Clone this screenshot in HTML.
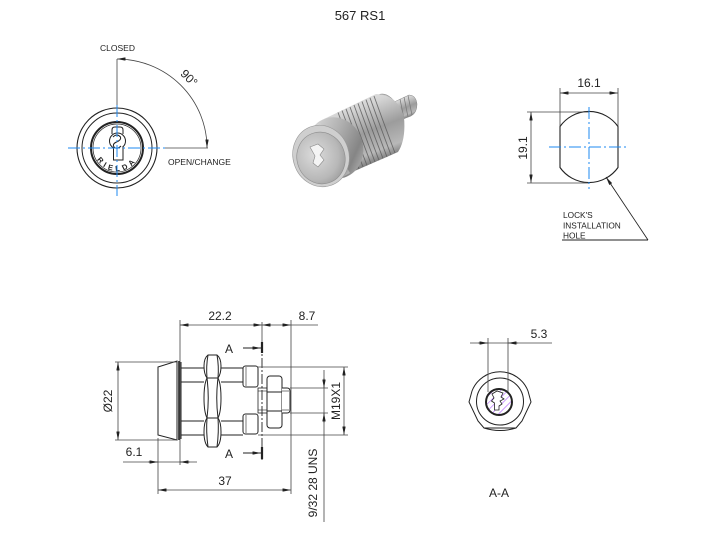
<!DOCTYPE html>
<html><head><meta charset="utf-8"><style>
html,body{margin:0;padding:0;background:#fff;}
svg{display:block;}
text{font-family:"Liberation Sans",Arial,sans-serif;fill:#222;}
</style></head><body>
<svg width="720" height="540" viewBox="0 0 720 540" xmlns="http://www.w3.org/2000/svg">
<defs>
<marker id="ah" viewBox="0 0 10 4" refX="10" refY="2" markerWidth="9" markerHeight="3.4" markerUnits="userSpaceOnUse" orient="auto-start-reverse"><path d="M0,0 L10,2 L0,4 z" fill="#222"/></marker>
<linearGradient id="gBody" x1="0" y1="0" x2="0.4" y2="1">
<stop offset="0" stop-color="#f0f0f0"/><stop offset="0.3" stop-color="#d4d4d4"/><stop offset="0.6" stop-color="#9c9c9c"/><stop offset="0.85" stop-color="#b8b8b8"/><stop offset="1" stop-color="#6e6e6e"/></linearGradient>
<linearGradient id="gHead" x1="0" y1="0" x2="1" y2="1">
<stop offset="0" stop-color="#e6e6e6"/><stop offset="0.45" stop-color="#b0b0b0"/><stop offset="0.75" stop-color="#858585"/><stop offset="1" stop-color="#c8c8c8"/></linearGradient>
<radialGradient id="gFace" cx="0.4" cy="0.4" r="0.7">
<stop offset="0" stop-color="#dcdcdc"/><stop offset="0.7" stop-color="#b8b8b8"/><stop offset="1" stop-color="#9a9a9a"/></radialGradient>
<pattern id="hatch" width="5" height="5" patternUnits="userSpaceOnUse" patternTransform="rotate(45)"><line x1="0" y1="0" x2="0" y2="5" stroke="#9933ff" stroke-width="0.9"/></pattern>
<path id="rp" d="M 94,148 A 23 23 0 0 0 140,148"/>
</defs>

<text x="360" y="20" font-size="13" text-anchor="middle">567 RS1</text>

<!-- ===== FRONT VIEW ===== -->
<g fill="none" stroke="#222">
<circle cx="117" cy="148" r="40" stroke-width="1.1"/>
<circle cx="117" cy="148" r="35" stroke-width="1"/>
<circle cx="117" cy="148" r="26" stroke-width="2"/>
<circle cx="117" cy="148" r="24" stroke-width="0.7"/>
<path d="M112,134 L112,130 Q112,127 115,127 L120,127 Q123,127 123,130 L123,134" stroke-width="1"/>
<circle cx="117.5" cy="141" r="8" stroke-width="1" fill="#fff"/>
<path d="M113.5,147 L113.5,160 L123,160 L123,147" stroke-width="1" fill="#fff"/>
<path d="M113,137 Q117,133 120.5,137 Q121.5,140 116.5,142 Q112,144 114,147 Q117,150 121,146" stroke-width="1"/>
</g>
<text font-size="7.5" font-weight="bold" letter-spacing="3.3"><textPath href="#rp" startOffset="50%" text-anchor="middle">RIELDA</textPath></text>
<g stroke="#1e88f0" stroke-width="1" fill="none" stroke-dasharray="12 3 2 3">
<line x1="68" y1="148" x2="165" y2="148"/>
<line x1="117" y1="105" x2="117" y2="196"/>
</g>
<g stroke="#444" stroke-width="0.8" fill="none">
<line x1="117" y1="59" x2="117" y2="105"/>
<line x1="165" y1="148" x2="208" y2="148"/>
<path d="M117,59 A 90 89 0 0 1 207,148" marker-start="url(#ah)" marker-end="url(#ah)"/>
</g>
<text x="100" y="51" font-size="8.5">CLOSED</text>
<text x="168" y="165" font-size="8.5">OPEN/CHANGE</text>
<text font-size="12" text-anchor="middle" dominant-baseline="central" transform="translate(189,78) rotate(45)">90°</text>

<!-- ===== 3D RENDER ===== -->
<g>
<path d="M392,103 L409,95 Q416,95 417,104 Q417,113 411,116 L398,121 Z" fill="url(#gBody)" stroke="#888" stroke-width="0.5"/>
<g stroke="#777" stroke-width="0.7">
<line x1="400" y1="99" x2="404" y2="119"/><line x1="404" y1="97" x2="408" y2="117"/><line x1="408" y1="95.5" x2="412" y2="115"/>
</g>
<ellipse cx="388" cy="118" rx="14" ry="25" transform="rotate(-20 388 118)" fill="#bdbdbd" stroke="#888" stroke-width="0.5"/>
<path d="M324,119 L376,94 Q398,95 404,117 Q406,140 398,152 L350,173 Z" fill="url(#gBody)"/>
<g stroke="#5a5a5a" stroke-width="0.9" fill="none" opacity="0.8">
<path d="M338,112.4 Q347,137 359,169"/><path d="M342,110.5 Q351,135 363,167"/><path d="M346,108.8 Q355,134 367,165.5"/>
<path d="M350,107 Q359,132 371,163.8"/><path d="M354,105 Q363,130 375,162"/><path d="M358,103.3 Q367,128.5 379,160.3"/>
<path d="M362,101.5 Q371,127 383,158.5"/><path d="M366,99.6 Q375,125 387,157"/><path d="M370,97.8 Q379,123 391,155"/>
<path d="M374,96 Q383,121 395,153"/>
</g>
<!-- head -->
<ellipse cx="335" cy="148" rx="28" ry="31" transform="rotate(-18 335 148)" fill="url(#gHead)"/>
<polygon points="306,131 320,123 350,173 336,181" fill="url(#gHead)"/>
<ellipse cx="321" cy="156" rx="28" ry="31" transform="rotate(-18 321 156)" fill="#cfcfcf" stroke="#999" stroke-width="0.6"/>
<ellipse cx="321" cy="158" rx="24" ry="26" transform="rotate(-18 321 158)" fill="url(#gFace)" stroke="#8c8c8c" stroke-width="0.6"/>
<path d="M310,147 L318,144 L324,149 L320,155 L324,160 L318,167 L313,163 L315,156 Z" fill="#f4f4f4" stroke="#888" stroke-width="0.6"/>
</g>

<!-- ===== RIGHT VIEW (hole) ===== -->
<path d="M560,126.5 A35.5 35.5 0 0 1 618,126.5 L618,167.5 A35.5 35.5 0 0 1 560,167.5 Z" fill="none" stroke="#222" stroke-width="1.1"/>
<g stroke="#444" stroke-width="0.8" fill="none">
<line x1="560" y1="88" x2="560" y2="126"/>
<line x1="618" y1="88" x2="618" y2="126"/>
<line x1="560" y1="93" x2="618" y2="93" marker-start="url(#ah)" marker-end="url(#ah)"/>
<line x1="527" y1="112" x2="589" y2="112"/>
<line x1="527" y1="183" x2="589" y2="183"/>
<line x1="531" y1="112" x2="531" y2="183" marker-start="url(#ah)" marker-end="url(#ah)"/>
</g>
<g stroke="#1e88f0" stroke-width="1" fill="none" stroke-dasharray="12 3 2 3">
<line x1="589" y1="107" x2="589" y2="189"/>
<line x1="549" y1="147" x2="629" y2="147"/>
</g>
<g stroke="#222" stroke-width="0.9" fill="none">
<line x1="648" y1="240" x2="606" y2="177" marker-end="url(#ah)"/>
<line x1="648" y1="240" x2="562" y2="240"/>
</g>
<text x="589" y="87" font-size="12" text-anchor="middle">16.1</text>
<text font-size="12" text-anchor="middle" dominant-baseline="central" transform="translate(523,148) rotate(-90)">19.1</text>
<text x="563" y="218" font-size="8.3">LOCK'S</text>
<text x="563" y="228.5" font-size="8.3">INSTALLATION</text>
<text x="563" y="238.5" font-size="8.3">HOLE</text>

<!-- ===== SIDE VIEW ===== -->
<g fill="none" stroke="#222" stroke-width="1">
<polygon points="158,367 177,361 177,440 158,435" fill="#fff"/>
<line x1="179" y1="361" x2="179" y2="440" stroke-width="1.6"/>
<line x1="181" y1="362" x2="181" y2="439"/>
<line x1="181" y1="368" x2="204" y2="368"/><line x1="181" y1="382" x2="204" y2="382"/>
<line x1="181" y1="421" x2="204" y2="421"/><line x1="181" y1="435" x2="204" y2="435"/>
<line x1="221" y1="368" x2="243" y2="368"/><line x1="221" y1="382" x2="243" y2="382"/>
<line x1="221" y1="421" x2="243" y2="421"/><line x1="221" y1="435" x2="243" y2="435"/>
<path d="M208,355 L217,355 Q221,358 221,366 Q221,374 218,378 Q221,384 221,398 Q221,412 218,418 Q221,422 221,432 Q221,443 217,447 L208,447 Q204,443 204,432 Q204,422 207,418 Q204,412 204,398 Q204,384 207,378 Q204,374 204,366 Q204,358 208,355 Z" fill="#fff"/>
<line x1="207" y1="378" x2="218" y2="378"/><line x1="207" y1="418" x2="218" y2="418"/>
<path d="M207,378 Q209.5,398 207,418"/><path d="M218,378 Q215.5,398 218,418"/>
<path d="M208,355 Q206,366 207,378"/><path d="M217,355 Q219,366 218,378"/>
<path d="M207,418 Q206,432 208,447"/><path d="M218,418 Q219,432 217,447"/>
<rect x="243" y="366" width="15" height="21" rx="2.5"/>
<rect x="243" y="414" width="15" height="20" rx="2.5"/>
<line x1="246" y1="367" x2="246" y2="386" stroke-width="0.6"/>
<line x1="246" y1="415" x2="246" y2="433" stroke-width="0.6"/>
<rect x="258" y="388" width="9" height="25" stroke-width="0.8"/>
<line x1="258" y1="391" x2="267" y2="391" stroke-width="0.6"/>
<line x1="258" y1="410" x2="267" y2="410" stroke-width="0.6"/>
<rect x="267" y="376" width="15" height="52" rx="3" fill="#fff"/>
<line x1="267" y1="392" x2="282" y2="392"/>
<line x1="267" y1="411" x2="282" y2="411"/>
<path d="M282,388 L287,388 Q290,388 290,391 L290,410 Q290,413 287,413 L282,413" fill="#fff"/>
<line x1="282" y1="391" x2="289" y2="391" stroke-width="0.6"/>
<line x1="282" y1="410" x2="289" y2="410" stroke-width="0.6"/>
</g>
<line x1="262" y1="322" x2="262" y2="342" stroke="#444" stroke-width="0.8"/>
<line x1="262" y1="342" x2="262" y2="460" stroke="#222" stroke-width="0.9" stroke-dasharray="10 2 2 2"/>
<g stroke="#222" stroke-width="2.2">
<line x1="262" y1="342" x2="262" y2="353"/>
<line x1="262" y1="447" x2="262" y2="459"/>
</g>
<g stroke="#222" stroke-width="0.9">
<line x1="243" y1="348" x2="261" y2="348" marker-end="url(#ah)"/>
<line x1="243" y1="453" x2="261" y2="453" marker-end="url(#ah)"/>
</g>
<text x="229" y="353" font-size="12" text-anchor="middle">A</text>
<text x="229" y="458" font-size="12" text-anchor="middle">A</text>

<g stroke="#444" stroke-width="0.8" fill="none">
<line x1="180" y1="320" x2="180" y2="465"/>
<line x1="158" y1="438" x2="158" y2="494"/>
<line x1="291" y1="320" x2="291" y2="494"/>
<line x1="180" y1="325" x2="262" y2="325" marker-start="url(#ah)" marker-end="url(#ah)"/>
<line x1="262" y1="325" x2="291" y2="325" marker-start="url(#ah)" marker-end="url(#ah)"/>
<line x1="291" y1="325" x2="318" y2="325"/>
<line x1="123" y1="462" x2="197" y2="462"/>
<line x1="148" y1="462" x2="158" y2="462" marker-end="url(#ah)"/>
<line x1="180" y1="462" x2="190" y2="462" marker-start="url(#ah)"/>
<line x1="158" y1="490" x2="291" y2="490" marker-start="url(#ah)" marker-end="url(#ah)"/>
<line x1="115" y1="362" x2="177" y2="362"/>
<line x1="115" y1="440" x2="177" y2="440"/>
<line x1="118" y1="362" x2="118" y2="440" marker-start="url(#ah)" marker-end="url(#ah)"/>
<line x1="258" y1="367" x2="348" y2="367"/>
<line x1="258" y1="435" x2="348" y2="435"/>
<line x1="344" y1="367" x2="344" y2="435" marker-start="url(#ah)" marker-end="url(#ah)"/>
<line x1="290" y1="388" x2="328" y2="388"/>
<line x1="290" y1="413" x2="328" y2="413"/>
<line x1="324" y1="370" x2="324" y2="522"/>
<line x1="324" y1="378" x2="324" y2="388" marker-end="url(#ah)"/>
<line x1="324" y1="423" x2="324" y2="413" marker-end="url(#ah)"/>
</g>
<text x="220" y="320" font-size="12" text-anchor="middle">22.2</text>
<text x="307" y="320" font-size="12" text-anchor="middle">8.7</text>
<text x="134" y="456" font-size="12" text-anchor="middle">6.1</text>
<text x="225" y="485" font-size="12" text-anchor="middle">37</text>
<text font-size="12" text-anchor="middle" dominant-baseline="central" transform="translate(108,401) rotate(-90)">Ø22</text>
<text font-size="12" text-anchor="middle" dominant-baseline="central" transform="translate(336,401) rotate(-90)">M19X1</text>
<text font-size="12" text-anchor="middle" dominant-baseline="central" transform="translate(313,483) rotate(-90)">9/32 28 UNS</text>

<!-- ===== A-A VIEW ===== -->
<g fill="none" stroke="#222" stroke-width="1">
<path d="M472,391 A30 30 0 0 1 528,391 L531,402 L522,421 L516,428 L484,428 L478,421 L469,402 Z"/>
<path d="M484,428 Q500,433 516,428"/>
<circle cx="500" cy="401.5" r="23.5"/>
</g>
<circle cx="499" cy="402" r="12" fill="url(#hatch)"/>
<path d="M492,394 L497,391 L503,393 L501,397 L504,399 L500,401 L502,404 L499,406 L499,410 L494.5,410 L494.5,403 L491.5,401 L494,398 Z" fill="#fff" stroke="#222" stroke-width="0.8"/>
<circle cx="499" cy="402" r="13" fill="none" stroke="#222" stroke-width="2"/>
<g stroke="#444" stroke-width="0.8" fill="none">
<line x1="488" y1="338" x2="488" y2="392"/>
<line x1="508" y1="338" x2="508" y2="392"/>
<line x1="470" y1="343" x2="552" y2="343"/>
<line x1="478" y1="343" x2="488" y2="343" marker-end="url(#ah)"/>
<line x1="508" y1="343" x2="518" y2="343" marker-start="url(#ah)"/>
</g>
<text x="539" y="338" font-size="12" text-anchor="middle">5.3</text>
<text x="499" y="497" font-size="12" text-anchor="middle">A-A</text>
</svg>
</body></html>
